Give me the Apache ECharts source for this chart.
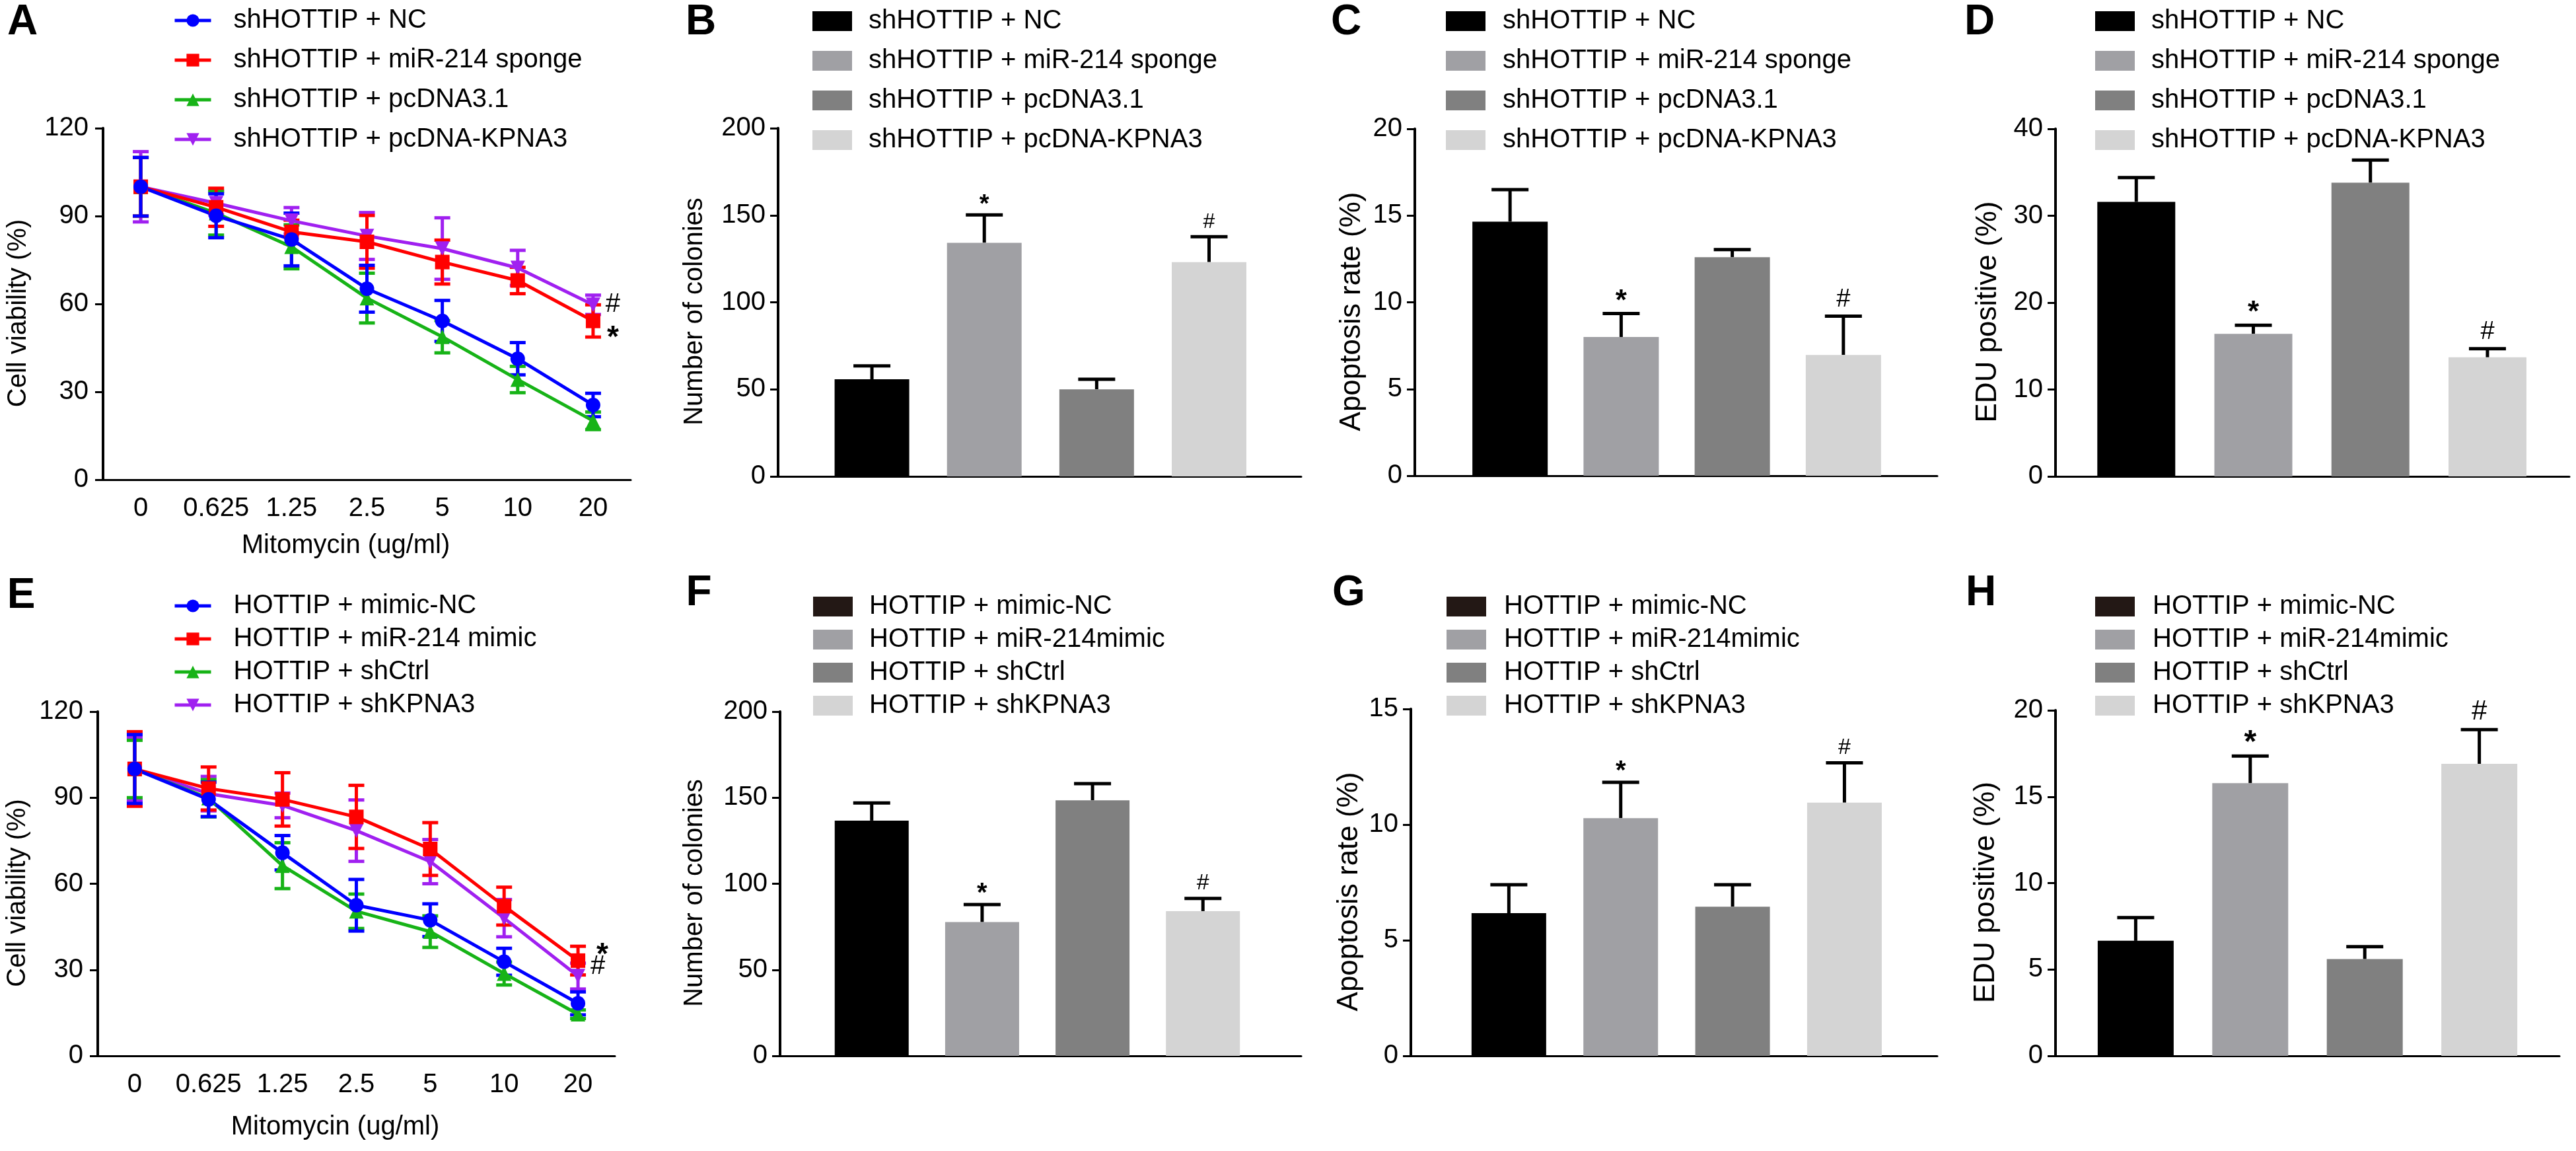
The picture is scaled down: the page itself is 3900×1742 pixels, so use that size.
<!DOCTYPE html>
<html>
<head>
<meta charset="utf-8">
<script src="https://cdn.jsdelivr.net/npm/echarts@6/dist/echarts.min.js"></script>
<style>
html, body { margin: 0; padding: 0; background: #fff; }
.layer { position: absolute; left: 0; top: 0; width: 3900px; height: 1742px; }
</style>
</head>
<body>
<div id="lines" class="layer"></div>
<div id="bars" class="layer"></div>
<script>
// ---- data ----
const doses = ['0', '0.625', '1.25', '2.5', '5', '10', '20']

// panel A
const aNames = ['shHOTTIP + NC', 'shHOTTIP + miR-214 sponge', 'shHOTTIP + pcDNA3.1', 'shHOTTIP + pcDNA-KPNA3']
const aNcMean = [100, 90.1, 82, 65.2, 54.2, 41.3, 25.5]
const aNcErr = [10, 7.5, 9, 8, 7, 5.5, 4]
const aSpongeMean = [100, 93, 84.6, 81.2, 74.3, 68, 54.2]
const aSpongeErr = [10, 6.5, 4, 9, 7.5, 4.5, 5.5]
const aPcMean = [100, 91, 79.5, 62, 48.8, 34.2, 20.1]
const aPcErr = [10, 7.5, 7.5, 8.5, 5.5, 4.5, 3]
const aKpnaMean = [100, 94.4, 88.4, 83.2, 78.9, 72.3, 59.7]
const aKpnaErr = [12, 4, 4.5, 8, 10.5, 6, 3.3]
const aSigText = ['#', '*']
const aSigValue = [59.7, 50.5]

// panel E
const eNames = ['HOTTIP + mimic-NC', 'HOTTIP + miR-214 mimic', 'HOTTIP + shCtrl', 'HOTTIP + shKPNA3']
const eNcMean = [100, 89.4, 70.8, 52.5, 47.3, 32.8, 18.3]
const eNcErr = [12, 6, 6, 9, 5.7, 4.7, 4]
const eMimicMean = [100, 93.2, 89.4, 83.3, 72.1, 52.2, 33.2]
const eMimicErr = [13, 7.5, 9.3, 11, 9.2, 6.6, 5]
const eCtrlMean = [100, 89.8, 66.3, 50.4, 43.3, 28.7, 14.5]
const eCtrlErr = [10, 6.5, 8, 6, 5.5, 4, 1.5]
const eShMean = [100, 91.4, 87.3, 78.5, 67.7, 48, 27.8]
const eShErr = [11, 6, 4.3, 10.7, 7.7, 6.5, 4.5]
const eSigText = ['*', '#']
const eSigValue = [37.2, 31]

// bar panels
const topGroups = ['shHOTTIP + NC', 'shHOTTIP + miR-214 sponge', 'shHOTTIP + pcDNA3.1', 'shHOTTIP + pcDNA-KPNA3']
const bottomGroups = ['HOTTIP + mimic-NC', 'HOTTIP + miR-214mimic', 'HOTTIP + shCtrl', 'HOTTIP + shKPNA3']
const bMean = [55.8, 134.2, 50, 123.1]
const bErr = [7.7, 16, 5.8, 14.6]
const bSig = ['', '*', '', '#']
const cMean = [14.65, 8.0, 12.6, 6.96]
const cErr = [1.85, 1.35, 0.44, 2.24]
const cSig = ['', '*', '', '#']
const dMean = [31.6, 16.4, 33.8, 13.7]
const dErr = [2.8, 1.0, 2.6, 1.0]
const dSig = ['', '*', '', '#']
const fMean = [136.7, 77.7, 148.5, 84.1]
const fErr = [10.2, 10.2, 9.7, 7.4]
const fSig = ['', '*', '', '#']
const gMean = [6.17, 10.28, 6.45, 10.95]
const gErr = [1.23, 1.55, 0.95, 1.72]
const gSig = ['', '*', '', '#']
const hMean = [6.66, 15.78, 5.6, 16.9]
const hErr = [1.34, 1.57, 0.72, 1.98]
const hSig = ['', '*', '', '#']

// ---- styles ----
const FONT = '"Liberation Sans", Arial, Helvetica, sans-serif'
const lineColors = ['#0000ff', '#ff0000', '#17b317', '#a020f0']
const lineSymbols = ['circle', 'rect', 'triangle', 'triangle']
const lineRotate = [0, 0, 0, 180]
const barColors = ['#000000', '#a0a0a4', '#808080', '#d4d4d4']
const axisStyle = w => ({ color: '#000', width: w })

const linePanels = [
  {
    names: aNames,
    means: [aNcMean, aSpongeMean, aPcMean, aKpnaMean],
    errs: [aNcErr, aSpongeErr, aPcErr, aKpnaErr],
    sigText: aSigText, sigValue: aSigValue, sigDx: [30, 30],
    grid: { left: 156, top: 194, width: 799, height: 532 },
    legendTop: 6, legendGap: 20, yNameGap: 108, xNameGap: 80
  },
  {
    names: eNames,
    means: [eNcMean, eMimicMean, eCtrlMean, eShMean],
    errs: [eNcErr, eMimicErr, eCtrlErr, eShErr],
    sigText: eSigText, sigValue: eSigValue, sigDx: [37, 30],
    grid: { left: 148, top: 1077, width: 783, height: 521 },
    legendTop: 892, legendGap: 10, yNameGap: 101, xNameGap: 88
  }
]

const barPanels = [
  { names: topGroups, mean: bMean, err: bErr, sig: bSig, yMax: 200, yStep: 50, yName: 'Number of colonies',
    xMin: -0.835, xMax: 3.82, barWidth: 113, grid: { left: 1178, top: 194, width: 792, height: 527 },
    legendLeft: 1225, legendPad: 20, legendTop: 7, legendGap: 20, nameGap: 106, nameSize: 40, sigSize: 32 },
  { names: topGroups, mean: cMean, err: cErr, sig: cSig, yMax: 20, yStep: 5, yName: 'Apoptosis rate (%)',
    xMin: -0.857, xMax: 3.845, barWidth: 114, grid: { left: 2142, top: 195, width: 791, height: 525 },
    legendLeft: 2184, legendPad: 21, legendTop: 7, legendGap: 20, nameGap: 73, nameSize: 44, sigSize: 38 },
  { names: topGroups, mean: dMean, err: dErr, sig: dSig, yMax: 40, yStep: 10, yName: 'EDU positive (%)',
    xMin: -0.69, xMax: 3.70, barWidth: 118, grid: { left: 3112, top: 195, width: 778, height: 526 },
    legendLeft: 3167, legendPad: 20, legendTop: 7, legendGap: 20, nameGap: 80, nameSize: 44, sigSize: 38 },
  { names: bottomGroups, mean: fMean, err: fErr, sig: fSig, yMax: 200, yStep: 50, yName: 'Number of colonies',
    xMin: -0.83, xMax: 3.89, barWidth: 112, grid: { left: 1181, top: 1077, width: 789, height: 521 },
    legendLeft: 1226, legendPad: 20, legendTop: 893, legendGap: 10, nameGap: 109, nameSize: 40, sigSize: 34 },
  { names: bottomGroups, mean: gMean, err: gErr, sig: gSig, yMax: 15, yStep: 5, yName: 'Apoptosis rate (%)',
    xMin: -0.876, xMax: 3.83, barWidth: 113, grid: { left: 2136, top: 1073, width: 797, height: 525 },
    legendLeft: 2185, legendPad: 22, legendTop: 893, legendGap: 10, nameGap: 71, nameSize: 44, sigSize: 34 },
  { names: bottomGroups, mean: hMean, err: hErr, sig: hSig, yMax: 20, yStep: 5, yName: 'EDU positive (%)',
    xMin: -0.70, xMax: 3.70, barWidth: 115, grid: { left: 3112, top: 1075, width: 763, height: 523 },
    legendLeft: 3167, legendPad: 22, legendTop: 893, legendGap: 10, nameGap: 83, nameSize: 44, sigSize: 42 }
]

const panelLetters = [
  ['A', 34, 34], ['B', 1061, 34], ['C', 2038, 34], ['D', 2997, 34],
  ['E', 32, 902], ['F', 1058, 898], ['G', 2042, 898], ['H', 2999, 898]
]

function stroke(color) {
  return { stroke: color, lineWidth: 5 }
}

// error bars, both directions, for the dose curves
function lineErrItem(params, api) {
  const x = api.value(0)
  const m = api.value(1)
  const e = api.value(2)
  const hi = api.coord([x, m + e])
  const lo = api.coord([x, m - e])
  const hw = 12
  const c = api.visual('color')
  return {
    type: 'group',
    children: [
      { type: 'line', shape: { x1: hi[0], y1: hi[1], x2: lo[0], y2: lo[1] }, style: stroke(c) },
      { type: 'line', shape: { x1: hi[0] - hw, y1: hi[1], x2: hi[0] + hw, y2: hi[1] }, style: stroke(c) },
      { type: 'line', shape: { x1: lo[0] - hw, y1: lo[1], x2: lo[0] + hw, y2: lo[1] }, style: stroke(c) }
    ]
  }
}

function sigStyle(t, size) {
  return {
    text: t, fill: '#000', fontFamily: FONT,
    fontSize: t === '*' ? size + 6 : size,
    fontWeight: t === '*' ? 'bold' : 'normal',
    align: 'center'
  }
}

// ---- line charts (A, E) ----
const lineOpt = { animation: false, grid: [], xAxis: [], yAxis: [], legend: [], series: [] }
linePanels.forEach((p, k) => {
  lineOpt.grid.push(Object.assign({ outerBoundsMode: 'none' }, p.grid))
  lineOpt.xAxis.push({
    type: 'category', gridIndex: k, data: doses, boundaryGap: true,
    axisLine: { lineStyle: axisStyle(3) },
    axisTick: { alignWithLabel: true, length: 12, lineStyle: axisStyle(3) },
    axisLabel: { color: '#000', fontSize: 40, fontFamily: FONT, margin: 24, interval: 0 },
    name: 'Mitomycin (ug/ml)', nameLocation: 'middle', nameGap: p.xNameGap,
    nameTextStyle: { color: '#000', fontSize: 40, fontFamily: FONT, padding: [0, 64, 0, 0] }
  })
  lineOpt.yAxis.push({
    type: 'value', gridIndex: k, min: 0, max: 120, interval: 30,
    axisLine: { show: true, onZero: false, lineStyle: axisStyle(4) },
    axisTick: { show: true, length: 12, lineStyle: axisStyle(3) },
    splitLine: { show: false },
    axisLabel: { color: '#000', fontSize: 40, fontFamily: FONT, margin: 22 },
    name: 'Cell viability (%)', nameLocation: 'middle', nameGap: p.yNameGap, nameRotate: 90,
    nameTextStyle: { color: '#000', fontSize: 40, fontFamily: FONT, padding: [0, 28, 0, 0] }
  })
  lineOpt.legend.push({
    orient: 'vertical', left: 257, top: p.legendTop,
    itemWidth: 55, itemHeight: 24, itemGap: p.legendGap,
    lineStyle: { width: 5 },
    data: p.names,
    textStyle: { color: '#000', fontSize: 40, fontFamily: FONT, lineHeight: 40, padding: [0, 0, 0, 29] }
  })
  // purple first so blue ends on top
  ;[3, 2, 1, 0].forEach(i => {
    lineOpt.series.push({
      type: 'custom', xAxisIndex: k, yAxisIndex: k,
      itemStyle: { color: lineColors[i] },
      data: p.means[i].map((m, j) => [j, m, p.errs[i][j]]),
      renderItem: lineErrItem, silent: true
    })
    lineOpt.series.push({
      type: 'line', name: p.names[i], xAxisIndex: k, yAxisIndex: k,
      data: p.means[i], symbol: lineSymbols[i], symbolRotate: lineRotate[i], symbolSize: 22,
      showSymbol: true, color: lineColors[i],
      itemStyle: { color: lineColors[i] }, lineStyle: { color: lineColors[i], width: 5 },
      emphasis: { disabled: true }
    })
  })
  lineOpt.series.push({
    type: 'custom', xAxisIndex: k, yAxisIndex: k, silent: true,
    data: p.sigValue.map(v => [doses.length - 1, v]),
    renderItem: (params, api) => {
      const pt = api.coord([api.value(0), api.value(1)])
      const t = p.sigText[params.dataIndex]
      const st = sigStyle(t, 40)
      st.verticalAlign = 'middle'
      return { type: 'text', x: pt[0] + p.sigDx[params.dataIndex], y: pt[1] + (t === '*' ? 10 : 0), style: st }
    }
  })
})

// ---- bar charts (B, C, D, F, G, H) ----
const barOpt = { animation: false, grid: [], xAxis: [], yAxis: [], legend: [], series: [], graphic: [] }
barPanels.forEach((p, k) => {
  barOpt.grid.push(Object.assign({ outerBoundsMode: 'none' }, p.grid))
  barOpt.xAxis.push({
    type: 'value', gridIndex: k, min: p.xMin, max: p.xMax,
    axisLine: { show: true, onZero: false, lineStyle: axisStyle(3) },
    axisTick: { show: false }, axisLabel: { show: false }, splitLine: { show: false }
  })
  barOpt.yAxis.push({
    type: 'value', gridIndex: k, min: 0, max: p.yMax, interval: p.yStep,
    axisLine: { show: true, onZero: false, lineStyle: axisStyle(4) },
    axisTick: { show: true, length: 12, lineStyle: axisStyle(3) },
    splitLine: { show: false },
    axisLabel: { color: '#000', fontSize: 40, fontFamily: FONT, margin: 19 },
    name: p.yName, nameLocation: 'middle', nameGap: p.nameGap, nameRotate: 90,
    nameTextStyle: { color: '#000', fontSize: p.nameSize, fontFamily: FONT, padding: [0, 28, 0, 0] }
  })
  const legendData = p.names.map((n, i) => (p.names === bottomGroups && i === 0)
    ? { name: n, itemStyle: { color: '#231815' } } : n)
  barOpt.legend.push({
    orient: 'vertical', left: p.legendLeft, top: p.legendTop, icon: 'rect',
    itemWidth: 60, itemHeight: 30, itemGap: p.legendGap, data: legendData,
    textStyle: { color: '#000', fontSize: 40, fontFamily: FONT, lineHeight: 40, padding: [0, 0, 0, p.legendPad] }
  })
  p.names.forEach((n, i) => {
    barOpt.series.push({
      type: 'bar', name: n, xAxisIndex: k, yAxisIndex: k,
      data: [[i, p.mean[i]]], barWidth: p.barWidth, barGap: '-100%',
      itemStyle: { color: barColors[i] }, emphasis: { disabled: true }
    })
  })
  barOpt.series.push({
    type: 'custom', xAxisIndex: k, yAxisIndex: k, silent: true,
    data: p.mean.map((m, i) => [i, m, p.err[i]]),
    renderItem: (params, api) => {
      const x = api.value(0)
      const m = api.value(1)
      const e = api.value(2)
      const base = api.coord([x, m])
      const hi = api.coord([x, m + e])
      const hw = 28
      const kids = [
        { type: 'line', shape: { x1: base[0], y1: base[1], x2: hi[0], y2: hi[1] }, style: stroke('#000') },
        { type: 'line', shape: { x1: hi[0] - hw, y1: hi[1], x2: hi[0] + hw, y2: hi[1] }, style: stroke('#000') }
      ]
      const t = p.sig[params.dataIndex]
      if (t) {
        const st = sigStyle(t, p.sigSize)
        st.verticalAlign = 'bottom'
        kids.push({ type: 'text', x: hi[0], y: hi[1] + (t === '*' ? 4 : -6), style: st })
      }
      return { type: 'group', children: kids }
    }
  })
})

panelLetters.forEach(([t, x, y]) => {
  barOpt.graphic.push({
    type: 'text', x: x, y: y,
    style: { text: t, fill: '#000', fontFamily: FONT, fontSize: 64, fontWeight: 'bold', align: 'center', verticalAlign: 'middle' }
  })
})

echarts.init(document.getElementById('lines')).setOption(lineOpt)
echarts.init(document.getElementById('bars')).setOption(barOpt)
</script>
</body>
</html>
